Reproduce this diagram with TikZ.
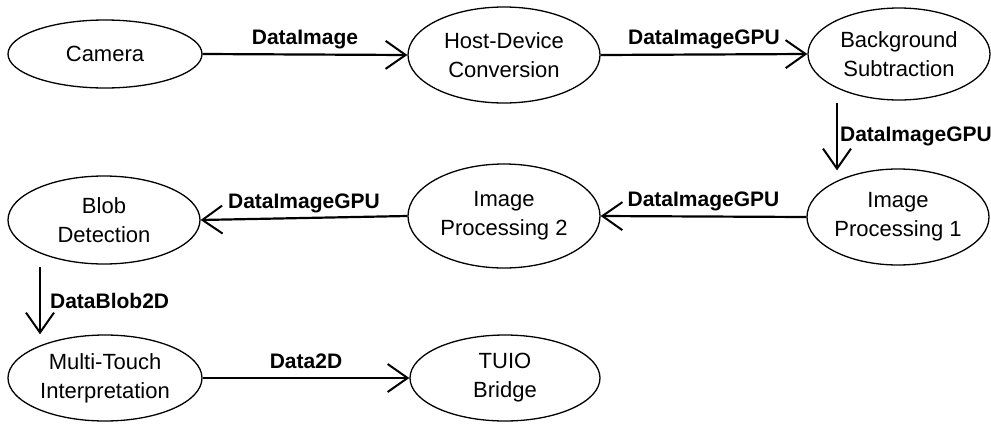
\documentclass[tikz,border=0pt]{standalone}
\usepackage{fontspec}
\setmainfont{Liberation Sans}
\usetikzlibrary{shapes.geometric,arrows.meta}
\begin{document}
\begin{tikzpicture}[x=1pt,y=-1pt,
  proc/.style={draw=black,line width=1.3pt,ellipse,inner sep=0pt,align=center,
    font=\fontsize{22}{29}\selectfont},
  flow/.style={line width=2.2pt,-{Straight Barb[length=20pt,width=28pt,line width=2pt]}},
  lbl/.style={font=\bfseries\fontsize{21}{25}\selectfont,inner sep=0pt},
  hlbl/.style={lbl,anchor=base,yshift=10pt}]
\useasboundingbox (0,0) rectangle (991,426);
\node[proc,minimum width=194pt,minimum height=68pt] (cam) at (105,54) {Camera};
\node[proc,minimum width=192pt,minimum height=96pt] (hd) at (504,55) {Host-Device\\Conversion};
\node[proc,minimum width=182pt,minimum height=92pt] (bg) at (899,54) {Background\\Subtraction};
\node[proc,minimum width=182pt,minimum height=96pt] (ip1) at (898,217) {Image\\Processing 1};
\node[proc,minimum width=192pt,minimum height=104pt] (ip2) at (504,216) {Image\\Processing 2};
\node[proc,minimum width=192pt,minimum height=88pt] (blob) at (104,220) {Blob\\Detection};
\node[proc,minimum width=194pt,minimum height=86pt] (mt) at (105,378) {Multi-Touch\\Interpretation};
\node[proc,minimum width=190pt,minimum height=86pt] (tuio) at (505,378) {TUIO\\Bridge};
\coordinate (v1s) at ([xshift=-62pt,yshift=-2pt]bg.south);
\coordinate (v1e) at ([xshift=-61pt,yshift=-2pt]ip1.north);
\coordinate (v2s) at ([xshift=-64pt,yshift=-2pt]blob.south);
\coordinate (v2e) at ([xshift=-65pt]mt.north);
\draw[flow] (cam.east) -- node[hlbl] (l1) {DataImage} (hd.west);
\draw[flow] (hd.east) -- node[hlbl] (l2) {DataImageGPU} (bg.west);
\draw[flow] (v1s) -- node[lbl,right=2pt] (l3) {DataImageGPU} (v1e);
\draw[flow] (ip1.west) -- node[hlbl] (l4) {DataImageGPU} (ip2.east);
\draw[flow] (ip2.west) -- node[hlbl] (l5) {DataImageGPU} (blob.east);
\draw[flow] (v2s) -- node[lbl,right=9pt] (l6) {DataBlob2D} (v2e);
\draw[flow] (mt.east) -- node[hlbl] (l7) {Data2D} (tuio.west);
\end{tikzpicture}
\end{document}
